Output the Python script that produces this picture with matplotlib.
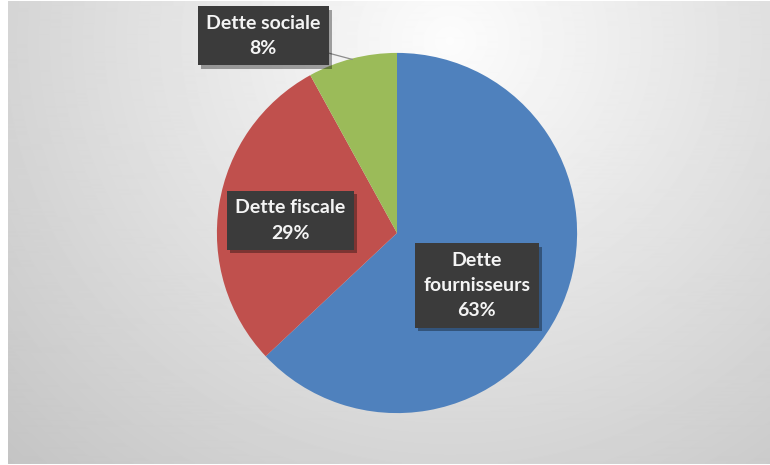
import numpy as np
import matplotlib
matplotlib.use('Agg')
import matplotlib.pyplot as plt
import matplotlib.patheffects as pe

plt.rcParams['font.family'] = ['Lato', 'DejaVu Sans']

# Data
categories = ['Dette\nfournisseurs', 'Dette fiscale', 'Dette sociale']
shares = [63, 29, 8]
colors = ['#4F81BD', '#C0504D', '#9BBB59']
# label box centres, in pie data units
label_pos = [(0.44, -0.29), (-0.59, 0.07), (-0.74, 1.09)]

W, H = 770, 465
fig = plt.figure(figsize=(W / 100, H / 100), dpi=100)
fig.patch.set_facecolor('white')

# grey radial background panel
bg = fig.add_axes([8 / W, 1 / H, 762 / W, 463 / H])
yy, xx = np.mgrid[0:463, 0:762]
d = np.sqrt(((xx - 442) / 450) ** 2 + ((yy - 40) / 430) ** 2)
shade = np.clip(0.99 - 0.16 * d, 0, 1)
bg.imshow(shade, cmap='gray', vmin=0, vmax=1, aspect='auto', interpolation='bilinear')
bg.axis('off')

# pie
cx, cy, r = 397, 233, 181
ax = fig.add_axes([(cx - r) / W, (H - cy - r) / H, 2 * r / W, 2 * r / H])
wedges, _ = ax.pie(shares, colors=colors, startangle=90, counterclock=False,
                   radius=0.995, wedgeprops=dict(linewidth=0))
ax.set_xlim(-1, 1)
ax.set_ylim(-1, 1)
ax.set_aspect('equal')
ax.axis('off')

for w, cat, val, pos in zip(wedges, categories, shares, label_pos):
    mid = np.deg2rad((w.theta1 + w.theta2) / 2)
    edge = (np.cos(mid) * 0.99, np.sin(mid) * 0.99)
    props = None
    if np.hypot(*pos) > 1:
        props = dict(arrowstyle='-', color='#8c8c8c', lw=0.9, shrinkA=0, shrinkB=0)
    t = ax.annotate(f'{cat}\n{val}%', xy=edge, xytext=pos, ha='center', va='center',
                    fontsize=14, fontweight='bold', color='#f4f4f4', linespacing=1.6,
                    arrowprops=props, annotation_clip=False,
                    bbox=dict(boxstyle='square,pad=0.43', fc='#3b3b3b', ec='none'))
    t.get_bbox_patch().set_path_effects([
        pe.SimplePatchShadow(offset=(2.5, -2.5), shadow_rgbFace='black', alpha=0.35),
        pe.Normal()])

fig.savefig('out.png', dpi=100)
